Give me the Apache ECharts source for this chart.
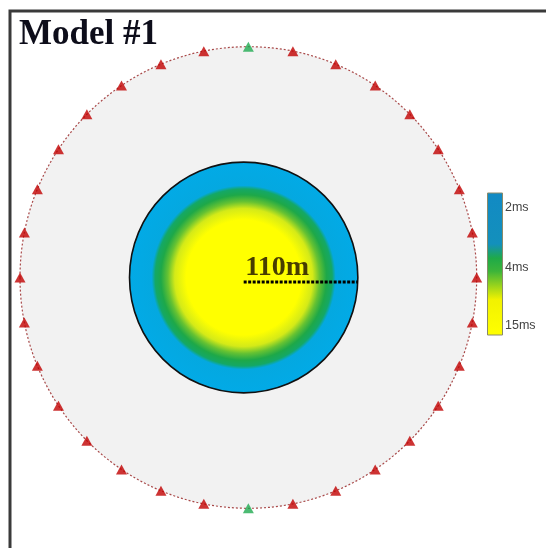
<!DOCTYPE html>
<html>
<head>
<meta charset="utf-8">
<script src="https://cdn.jsdelivr.net/npm/echarts@6/dist/echarts.min.js"></script>
<style>html,body{margin:0;padding:0;background:#fff}#c{width:546px;height:548px}</style>
</head>
<body>
<div id="c"></div>
<script>
// ---- data (metres / degrees) ----
const titleText = 'Model #1';
const fieldRadius = 220;               // ring of stations
const fieldCenter = [0, 0];
const modelRadius = 110;               // anomaly body
const modelCenter = [-4.5, 0];
const radiusLabel = '110m';
const radiusLineY = -4.3;
const receiverAngles = [11.25, 22.5, 33.75, 45, 56.25, 67.5, 78.75, 90, 101.25, 112.5, 123.75, 135, 146.25, 157.5, 168.75,
                        191.25, 202.5, 213.75, 225, 236.25, 247.5, 258.75, 270, 281.25, 292.5, 303.75, 315, 326.25, 337.5, 348.75];
const sourceAngles = [0, 180];
const colorbarLabels = ['2ms', '4ms', '15ms'];

function toXY(angles, r) {
  return angles.map(a => [r * Math.sin(a * Math.PI / 180), r * Math.cos(a * Math.PI / 180)]);
}

function discItem(params, api, style) {
  const cx = api.value(0), cy = api.value(1), r = api.value(2);
  const c = api.coord([cx, cy]);
  const ex = api.coord([cx + r, cy]);
  const ey = api.coord([cx, cy + r]);
  return {
    type: 'ellipse',
    shape: { cx: c[0], cy: c[1], rx: ex[0] - c[0], ry: c[1] - ey[1] },
    style: style
  };
}

const chart = echarts.init(document.getElementById('c'), null, { renderer: 'canvas' });
chart.setOption({
  backgroundColor: '#ffffff',
  animation: false,
  title: {
    text: titleText, left: 19, top: 17, padding: 0,
    textStyle: { fontFamily: 'Liberation Serif', fontWeight: 'bold', fontSize: 35, color: '#0d0d1a' }
  },
  grid: { left: 20, top: 46.7, width: 456.7, height: 461.6 },
  xAxis: { type: 'value', min: -220, max: 220, show: false },
  yAxis: { type: 'value', min: -220, max: 220, show: false },
  graphic: [
    { type: 'rect', shape: { x: 10, y: 11, width: 600, height: 600 }, style: { fill: null, stroke: '#3a3a3a', lineWidth: 3 }, z: 100 },
    { type: 'rect', shape: { x: 487.5, y: 193, width: 15, height: 142 },
      style: { stroke: '#8a8a6a', lineWidth: 1,
        fill: { type: 'linear', x: 0, y: 0, x2: 0, y2: 1, colorStops: [
          { offset: 0, color: '#128ac4' }, { offset: 0.36, color: '#1390bc' },
          { offset: 0.46, color: '#1faa48' }, { offset: 0.55, color: '#3cb43a' },
          { offset: 0.75, color: '#f2f200' }, { offset: 1, color: '#ffff00' } ] } } },
    { type: 'text', left: 505, top: 201, style: { text: colorbarLabels[0], fontFamily: 'Liberation Sans', fontSize: 12.5, fill: '#444' } },
    { type: 'text', left: 505, top: 261, style: { text: colorbarLabels[1], fontFamily: 'Liberation Sans', fontSize: 12.5, fill: '#444' } },
    { type: 'text', left: 505, top: 319, style: { text: colorbarLabels[2], fontFamily: 'Liberation Sans', fontSize: 12.5, fill: '#444' } }
  ],
  series: [
    {
      type: 'custom', z: 1, silent: true,
      data: [[fieldCenter[0], fieldCenter[1], fieldRadius]],
      renderItem: (p, api) => discItem(p, api, { fill: '#f2f2f2', stroke: '#a84848', lineWidth: 1.2, lineDash: [2, 2] })
    },
    {
      type: 'custom', z: 2, silent: true,
      data: [[modelCenter[0], modelCenter[1], modelRadius]],
      renderItem: (p, api) => discItem(p, api, {
        stroke: '#111', lineWidth: 1.6,
        fill: { type: 'radial', x: 0.5, y: 0.5, r: 0.5, colorStops: [
          { offset: 0, color: '#ffff00' }, { offset: 0.50, color: '#ffff00' },
          { offset: 0.60, color: '#d4ea18' }, { offset: 0.66, color: '#66c232' },
          { offset: 0.72, color: '#1ea848' }, { offset: 0.77, color: '#14a866' },
          { offset: 0.80, color: '#04a8e0' }, { offset: 1, color: '#02aae6' } ] }
      })
    },
    {
      type: 'line', z: 3, silent: true, symbol: 'none',
      data: [[modelCenter[0], radiusLineY], [modelCenter[0] + modelRadius, radiusLineY]],
      lineStyle: { color: '#000', width: 3, type: [3, 1.5], cap: 'butt' }
    },
    {
      type: 'scatter', z: 4, silent: true, symbol: 'circle', symbolSize: 1,
      itemStyle: { color: 'rgba(0,0,0,0)' },
      data: [[modelCenter[0] + 1.5, radiusLineY]],
      label: { show: true, formatter: radiusLabel, position: 'top', align: 'left', distance: 0,
        fontFamily: 'Liberation Serif', fontWeight: 'bold', fontSize: 28, color: '#1a0d00' }
    },
    {
      type: 'scatter', z: 5, silent: true, symbol: 'triangle', symbolSize: [11, 10],
      itemStyle: { color: '#c00000' },
      data: toXY(receiverAngles, fieldRadius)
    },
    {
      type: 'scatter', z: 5, silent: true, symbol: 'triangle', symbolSize: [11, 10],
      itemStyle: { color: '#1faa50' },
      data: toXY(sourceAngles, fieldRadius)
    }
  ]
});
</script>
</body>
</html>
